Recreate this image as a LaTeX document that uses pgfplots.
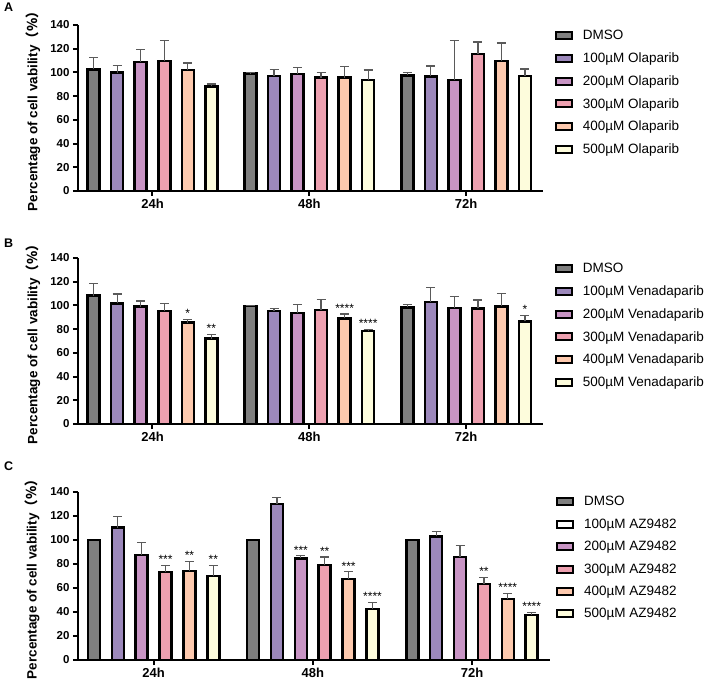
\documentclass[border=0pt]{standalone}
\usepackage{fontspec}
\setmainfont{Liberation Sans}
\newfontfamily\cjk{Noto Sans CJK SC}
\usepackage{pgfplots}
\pgfplotsset{compat=1.18}
\definecolor{cD}{HTML}{7F7F7F}
\definecolor{c1}{HTML}{9C88BB}
\definecolor{c2}{HTML}{C894C4}
\definecolor{c3}{HTML}{EDA0B0}
\definecolor{c4}{HTML}{FDC9AE}
\definecolor{c5}{HTML}{FDFCDC}
\definecolor{errc}{HTML}{5A5A5A}
\pgfplotsset{
 panel/.style={
  scale only axis, width=465pt, height=166pt,
  xmin=-0.475, xmax=2.49, ymin=0, ymax=140,
  axis x line=bottom, axis y line=left,
  axis line style={-, line width=2pt, black},
  ytick={0,20,...,140}, xtick={0,1,2}, xticklabels={24h,48h,72h},
  tick align=outside, major tick length=5pt,
  tick style={line width=2pt, black},
  yticklabel style={font=\bfseries\fontsize{11.5}{12}\selectfont},
  xticklabel style={font=\bfseries\fontsize{13}{14}\selectfont},
  /pgf/number format/assume math mode=true,
  ylabel={\bfseries Percentage of cell vability{\cjk （\%）}},
  ylabel style={font=\fontsize{13.5}{14}\selectfont, at={(axis description cs:-0.097,0.5)}, anchor=center},
  legend style={draw=none, fill=none, font=\fontsize{13.5}{14}\selectfont, anchor=north west, row sep=7.5pt, inner sep=0pt},
  legend cell align=left,
  clip=false,
 },
 barsne/.style={ybar, bar width=12pt, bar shift=0pt, draw=black, line width=2.5pt, fill=#1, forget plot},
 bars/.style={barsne=#1,
   error bars/.cd, y dir=plus, y explicit, error bar style={errc, line width=1.2pt}, error mark options={errc, rotate=90, mark size=4.5pt, line width=1.2pt}},
 sw/.style={legend image code/.code={\path[draw=none, fill=none] (0pt,0pt) -- (25pt,0pt);\draw[line width=2pt, draw=black, fill=#1] (0pt,-3.5pt) rectangle (16pt,3.5pt);}},
 stars/.style={draw=none, mark=none, forget plot, nodes near coords, point meta=explicit symbolic, nodes near coords style={anchor=south, inner sep=0pt, font=\fontsize{12}{12}\selectfont, yshift=1.5pt}},
}
\begin{document}
\begin{tikzpicture}
\useasboundingbox (0,0) rectangle (709pt,683pt);
\node[anchor=base west, inner sep=0pt, font=\bfseries\fontsize{12.5}{13}\selectfont] at (4pt,671pt) {A};
\node[anchor=base west, inner sep=0pt, font=\bfseries\fontsize{12.5}{13}\selectfont] at (4pt,435pt) {B};
\node[anchor=base west, inner sep=0pt, font=\bfseries\fontsize{12.5}{13}\selectfont] at (4pt,212pt) {C};
% ---------------- A
\begin{axis}[panel, at={(78pt,492pt)}, anchor=south west, legend style={at={(axis description cs:1.025,0.981)}}]
\addplot[bars=cD] coordinates {(-0.375,102.6) +- (0,10.1) (0.625,99.2) +- (0,0.6) (1.625,97.6) +- (0,2.4)};
\addplot[bars=c1] coordinates {(-0.225,99.8) +- (0,5.9) (0.775,97.0) +- (0,5.3) (1.775,96.7) +- (0,8.7)};
\addplot[bars=c2] coordinates {(-0.075,108.8) +- (0,10.7) (0.925,98.7) +- (0,5.6) (1.925,93.6) +- (0,33.2)};
\addplot[bars=c3] coordinates {(0.075,109.6) +- (0,17.2) (1.075,95.6) +- (0,4.2) (2.075,115.5) +- (0,10.1)};
\addplot[bars=c4] coordinates {(0.225,102.0) +- (0,6.0) (1.225,95.6) +- (0,9.3) (2.225,109.6) +- (0,15.2)};
\addplot[bars=c5] coordinates {(0.375,88.3) +- (0,1.9) (1.375,93.6) +- (0,8.4) (2.375,97.0) +- (0,5.9)};
\addlegendimage{sw=cD}\addlegendentry{DMSO}
\addlegendimage{sw=c1}\addlegendentry{100µM Olaparib}
\addlegendimage{sw=c2}\addlegendentry{200µM Olaparib}
\addlegendimage{sw=c3}\addlegendentry{300µM Olaparib}
\addlegendimage{sw=c4}\addlegendentry{400µM Olaparib}
\addlegendimage{sw=c5}\addlegendentry{500µM Olaparib}
\end{axis}
% ---------------- B
\begin{axis}[panel, at={(78pt,259pt)}, anchor=south west, legend style={at={(axis description cs:1.025,0.981)}}]
\addplot[bars=cD] coordinates {(-0.375,108.2) +- (0,10.1) (0.625,99.7) +- (0,0.4) (1.625,98.3) +- (0,2.3)};
\addplot[bars=c1] coordinates {(-0.225,101.7) +- (0,7.9) (0.775,95.5) +- (0,2.2) (1.775,103.0) +- (0,11.9)};
\addplot[bars=c2] coordinates {(-0.075,98.9) +- (0,4.8) (0.925,93.5) +- (0,7.3) (1.925,97.7) +- (0,9.6)};
\addplot[bars=c3] coordinates {(0.075,95.5) +- (0,6.2) (1.075,96.0) +- (0,9.3) (2.075,97.5) +- (0,7.0)};
\addplot[bars=c4] coordinates {(0.225,85.6) +- (0,2.6) (1.225,89.0) +- (0,3.7) (2.225,99.2) +- (0,10.7)};
\addplot[bars=c5] coordinates {(0.375,72.1) +- (0,3.4) (1.375,78.3) +- (0,1.4) (2.375,86.5) +- (0,5.3)};
\addplot[stars] coordinates {(0.225,88.2) [*] (0.375,75.5) [**] (1.225,92.7) [****] (1.375,79.7) [****] (2.375,91.8) [*]};
\addlegendimage{sw=cD}\addlegendentry{DMSO}
\addlegendimage{sw=c1}\addlegendentry{100µM Venadaparib}
\addlegendimage{sw=c2}\addlegendentry{200µM Venadaparib}
\addlegendimage{sw=c3}\addlegendentry{300µM Venadaparib}
\addlegendimage{sw=c4}\addlegendentry{400µM Venadaparib}
\addlegendimage{sw=c5}\addlegendentry{500µM Venadaparib}
\end{axis}
% ---------------- C
\begin{axis}[panel, width=472pt, height=168pt, at={(78pt,23pt)}, anchor=south west, legend style={at={(axis description cs:1.0127,0.987)}}]
\addplot[barsne=cD] coordinates {(-0.375,100) (0.625,100) (1.625,100)};
\addplot[bars=c1] coordinates {(-0.225,110.3) +- (0,9.2) (0.775,130.0) +- (0,5.3) (1.775,103.1) +- (0,3.9)};
\addplot[bars=c2] coordinates {(-0.075,87.3) +- (0,10.6) (0.925,84.6) +- (0,2.2) (1.925,85.9) +- (0,9.5)};
\addplot[bars=c3] coordinates {(0.075,73.2) +- (0,5.5) (1.075,79.0) +- (0,6.9) (2.075,63.2) +- (0,5.8)};
\addplot[bars=c4] coordinates {(0.225,74.0) +- (0,8.3) (1.225,67.6) +- (0,5.9) (2.225,50.7) +- (0,4.7)};
\addplot[bars=c5] coordinates {(0.375,69.9) +- (0,8.8) (1.375,42.4) +- (0,5.6) (2.375,37.7) +- (0,2.2)};
\addplot[stars] coordinates {(0.075,78.7) [***] (0.225,82.3) [**] (0.375,78.7) [**] (0.925,86.8) [***] (1.075,85.9) [**] (1.225,73.5) [***] (1.375,48.0) [****] (2.075,69.0) [**] (2.225,55.4) [****] (2.375,39.9) [****]};
\addlegendimage{sw=cD}\addlegendentry{DMSO}
\addlegendimage{sw=white}\addlegendentry{100µM AZ9482}
\addlegendimage{sw=c2}\addlegendentry{200µM AZ9482}
\addlegendimage{sw=c3}\addlegendentry{300µM AZ9482}
\addlegendimage{sw=c4}\addlegendentry{400µM AZ9482}
\addlegendimage{sw=c5}\addlegendentry{500µM AZ9482}
\end{axis}
\end{tikzpicture}
\end{document}
